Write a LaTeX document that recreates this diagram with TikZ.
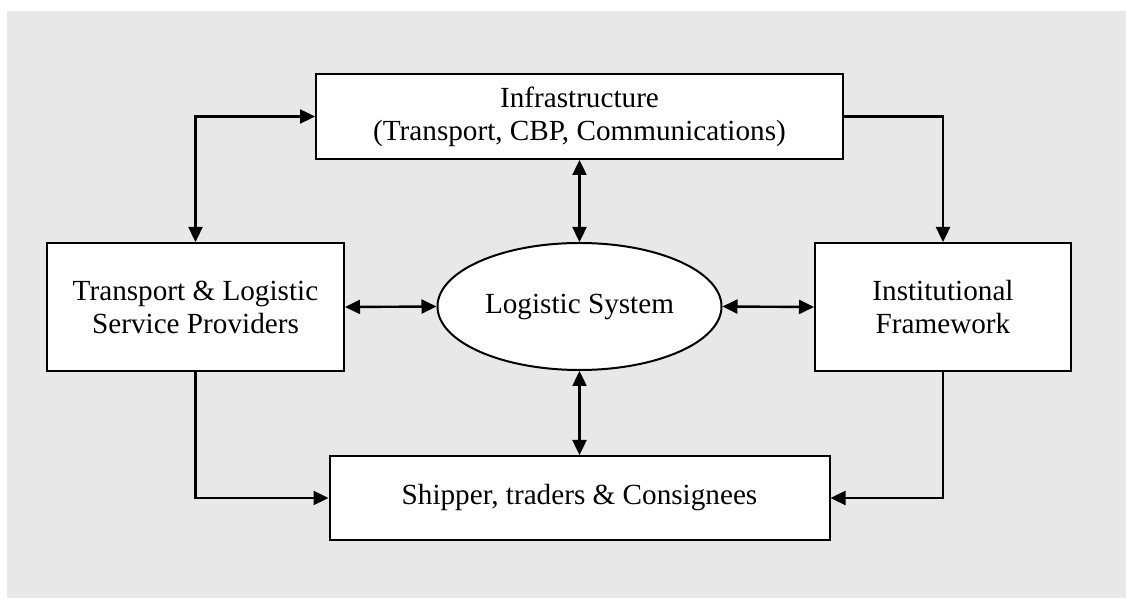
\documentclass[tikz,border=0pt]{standalone}
\usepackage{fontspec}
\setmainfont{Liberation Serif}
\usetikzlibrary{arrows.meta,shapes.geometric}

\begin{document}
\begin{tikzpicture}[x=0.5pt,y=-0.5pt,
  box/.style={draw,fill=white,line width=1pt,align=center,inner sep=0pt,
    font=\fontsize{14.6}{16.5}\selectfont},
  link/.style={line width=1.2pt,{Triangle[length=7.5pt,width=7pt]}-{Triangle[length=7.5pt,width=7pt]}},
  onelink/.style={line width=1.2pt,-{Triangle[length=7.5pt,width=7pt]}}]
  \useasboundingbox (0,0) rectangle (1126,598);
  \fill[gray!18] (7,11) rectangle (1126,598);
  % boxes
  \node[box,minimum width=263.5pt,minimum height=42.5pt] (infra) at (579.5,116.5)
    {Infrastructure\\(Transport, CBP, Communications)};
  \node[box,minimum width=148.5pt,minimum height=64pt] (tlsp) at (195.5,307)
    {Transport \& Logistic\\Service Providers};
  \node[box,minimum width=128pt,minimum height=64pt] (inst) at (943,307)
    {Institutional\\Framework};
  \node[box,ellipse,minimum width=142pt,minimum height=63.5pt] (logi) at (579.5,306.5)
    {Logistic System};
  \node[box,minimum width=250pt,minimum height=42pt] (ship) at (579.5,498)
    {Shipper, traders \& Consignees};
  % connectors
  \draw[link] (tlsp.north) |- (infra.west);
  \draw[onelink] (infra.east) -| (inst.north);
  \draw[onelink] (tlsp.south) |- (ship.west);
  \draw[onelink] (inst.south) |- (ship.east);
  \draw[link] (tlsp.east) -- (logi.west);
  \draw[link] (logi.east) -- (inst.west);
  \draw[link] (infra.south) -- (logi.north);
  \draw[link] (logi.south) -- (ship.north);
\end{tikzpicture}
\end{document}
